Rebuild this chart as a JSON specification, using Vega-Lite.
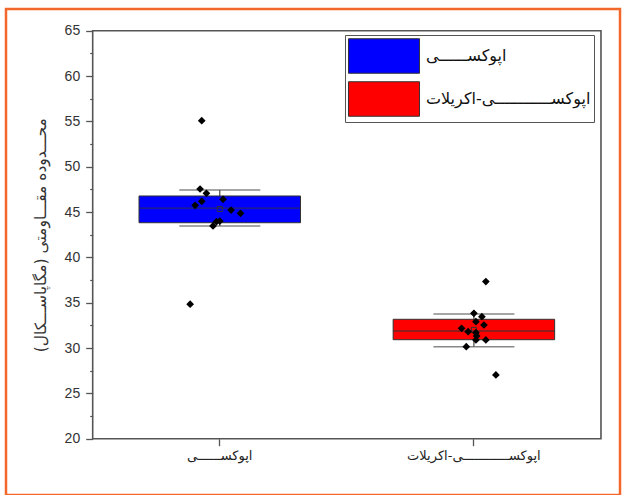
{
  "$schema": "https://vega.github.io/schema/vega-lite/v6.json",
  "width": 614,
  "height": 486,
  "autosize": {"type": "none"},
  "padding": {"left": 6, "top": 9, "right": 4, "bottom": 0},
  "background": "white",
  "config": {
    "view": {"stroke": "#F4672A", "strokeWidth": 2.5},
    "font": "DejaVu Sans"
  },
  "datasets": {
    "stats": [
      {"group": "اپوکســــــی", "lower": 43.46, "q1": 43.82, "median": 45.44, "q3": 46.77, "upper": 47.43, "mean": 45.33},
      {"group": "اپوکســــــــــــی-اکریلات", "lower": 30.15, "q1": 30.92, "median": 31.88, "q3": 33.17, "upper": 33.75, "mean": 32.0}
    ],
    "points": [
      {"group": "اپوکســــــی", "value": 55.08, "jitter": -0.142},
      {"group": "اپوکســــــی", "value": 34.83, "jitter": -0.233},
      {"group": "اپوکســــــی", "value": 47.54, "jitter": -0.155},
      {"group": "اپوکســــــی", "value": 47.07, "jitter": -0.105},
      {"group": "اپوکســــــی", "value": 46.4, "jitter": 0.026},
      {"group": "اپوکســــــی", "value": 46.18, "jitter": -0.142},
      {"group": "اپوکســــــی", "value": 45.74, "jitter": -0.194},
      {"group": "اپوکســــــی", "value": 45.22, "jitter": 0.089},
      {"group": "اپوکســــــی", "value": 44.86, "jitter": 0.163},
      {"group": "اپوکســــــی", "value": 44.01, "jitter": 0.0},
      {"group": "اپوکســــــی", "value": 43.93, "jitter": -0.026},
      {"group": "اپوکســــــی", "value": 43.46, "jitter": -0.053},
      {"group": "اپوکســــــــــــی-اکریلات", "value": 37.33, "jitter": 0.094},
      {"group": "اپوکســــــــــــی-اکریلات", "value": 33.83, "jitter": 0.0},
      {"group": "اپوکســــــــــــی-اکریلات", "value": 33.46, "jitter": 0.063},
      {"group": "اپوکســــــــــــی-اکریلات", "value": 32.9, "jitter": 0.016},
      {"group": "اپوکســــــــــــی-اکریلات", "value": 32.54, "jitter": 0.079},
      {"group": "اپوکســــــــــــی-اکریلات", "value": 32.18, "jitter": -0.097},
      {"group": "اپوکســــــــــــی-اکریلات", "value": 31.8, "jitter": -0.045},
      {"group": "اپوکســــــــــــی-اکریلات", "value": 31.69, "jitter": 0.016},
      {"group": "اپوکســــــــــــی-اکریلات", "value": 31.33, "jitter": 0.021},
      {"group": "اپوکســــــــــــی-اکریلات", "value": 30.89, "jitter": 0.094},
      {"group": "اپوکســــــــــــی-اکریلات", "value": 30.89, "jitter": 0.016},
      {"group": "اپوکســــــــــــی-اکریلات", "value": 30.15, "jitter": -0.06},
      {"group": "اپوکســــــــــــی-اکریلات", "value": 27.03, "jitter": 0.173}
    ]
  },
  "resolve": {"axis": {"y": "independent"}},
  "layer": [
    {
      "data": {"name": "stats"},
      "mark": {"type": "rule", "color": "#555555", "strokeWidth": 1.3},
      "encoding": {
        "x": {
          "field": "group", "type": "nominal", "sort": null,
          "scale": {"type": "band", "domain": ["اپوکســــــی", "اپوکســــــــــــی-اکریلات"], "paddingInner": 0, "paddingOuter": 0.208, "align": 0.82},
          "axis": {"orient": "bottom", "offset": -56.3, "domain": false, "grid": false, "tickSize": 7, "tickColor": "#555555", "tickWidth": 1.3, "labelAngle": 0, "labelFontSize": 13, "labelColor": "#222222", "labelPadding": 4, "title": null}
        },
        "y": {
          "field": "lower", "type": "quantitative",
          "scale": {"domain": [13.79, 67.393], "nice": false, "zero": false},
          "axis": {"orient": "left", "offset": -86.7, "values": [22.5, 27.5, 32.5, 37.5, 42.5, 47.5, 52.5, 57.5, 62.5], "domain": false, "grid": false, "labels": false, "tickSize": 3, "tickColor": "#555555", "tickWidth": 1.2, "title": null}
        },
        "y2": {"field": "upper"}
      }
    },
    {
      "data": {"name": "stats"},
      "transform": [{"fold": ["lower", "upper"], "as": ["kind", "cap"]}],
      "mark": {"type": "tick", "orient": "horizontal", "color": "#555555", "size": 81, "thickness": 1.5},
      "encoding": {
        "x": {"field": "group", "type": "nominal", "sort": null},
        "y": {"field": "cap", "type": "quantitative", "axis": null}
      }
    },
    {
      "data": {"name": "stats"},
      "mark": {"type": "bar", "size": 161.5, "stroke": "#333333", "strokeWidth": 1},
      "encoding": {
        "x": {"field": "group", "type": "nominal", "sort": null},
        "y": {"field": "q1", "type": "quantitative", "axis": null},
        "y2": {"field": "q3"},
        "color": {
          "field": "group", "type": "nominal",
          "scale": {"domain": ["اپوکســــــی", "اپوکســــــــــــی-اکریلات"], "range": ["#0000FF", "#FF0000"]},
          "legend": {"orient": "top-right", "offset": 26, "title": null, "symbolType": "M-2.03,-0.986H2.03V0.986H-2.03Z", "symbolSize": 1225, "symbolOffset": 18, "symbolStrokeColor": "#333333", "symbolStrokeWidth": 1, "symbolOpacity": 1, "labelFontSize": 16, "labelFont": "DejaVu Sans", "labelColor": "#111111", "labelOffset": 24, "rowPadding": 3, "padding": 3, "strokeColor": "#555555", "labelLimit": 400}
        }
      }
    },
    {
      "data": {"name": "stats"},
      "mark": {"type": "tick", "orient": "horizontal", "color": "#333333", "size": 161.5, "thickness": 1.3},
      "encoding": {
        "x": {"field": "group", "type": "nominal", "sort": null},
        "y": {"field": "median", "type": "quantitative", "axis": null}
      }
    },
    {
      "data": {"name": "stats"},
      "mark": {"type": "point", "shape": "square", "filled": false, "stroke": "#333333", "strokeWidth": 1, "size": 25, "opacity": 1},
      "encoding": {
        "x": {"field": "group", "type": "nominal", "sort": null},
        "y": {"field": "mean", "type": "quantitative", "axis": null}
      }
    },
    {
      "data": {"name": "points"},
      "mark": {"type": "point", "shape": "diamond", "filled": true, "color": "#000000", "size": 60, "opacity": 1},
      "encoding": {
        "x": {"field": "group", "type": "nominal", "sort": null},
        "xOffset": {"field": "jitter", "type": "quantitative", "scale": {"domain": [-1, 1]}},
        "y": {"field": "value", "type": "quantitative", "axis": null}
      }
    },
    {
      "data": {"values": [{}]},
      "mark": {"type": "rect", "fillOpacity": 0, "stroke": "#555555", "strokeWidth": 1.6},
      "encoding": {
        "x": {"datum": "اپوکســــــی", "type": "nominal", "bandPosition": 0},
        "x2": {"datum": "اپوکســــــــــــی-اکریلات", "bandPosition": 1},
        "y": {
          "datum": 20, "type": "quantitative",
          "axis": {"orient": "left", "offset": -86.7, "values": [20, 25, 30, 35, 40, 45, 50, 55, 60, 65], "domain": false, "grid": false, "tickSize": 7, "tickColor": "#555555", "tickWidth": 1.3, "labelFontSize": 14, "labelFont": "Liberation Sans", "labelColor": "#333333", "labelPadding": 6, "title": "محـــدوده مقـــاومتی (مگاپاســـکال)", "titleFont": "DejaVu Sans", "titleFontSize": 15.5, "titleFontWeight": "normal", "titleColor": "#333333", "titleX": -44, "titleY": 225.7}
        },
        "y2": {"datum": 65}
      }
    }
  ]
}
